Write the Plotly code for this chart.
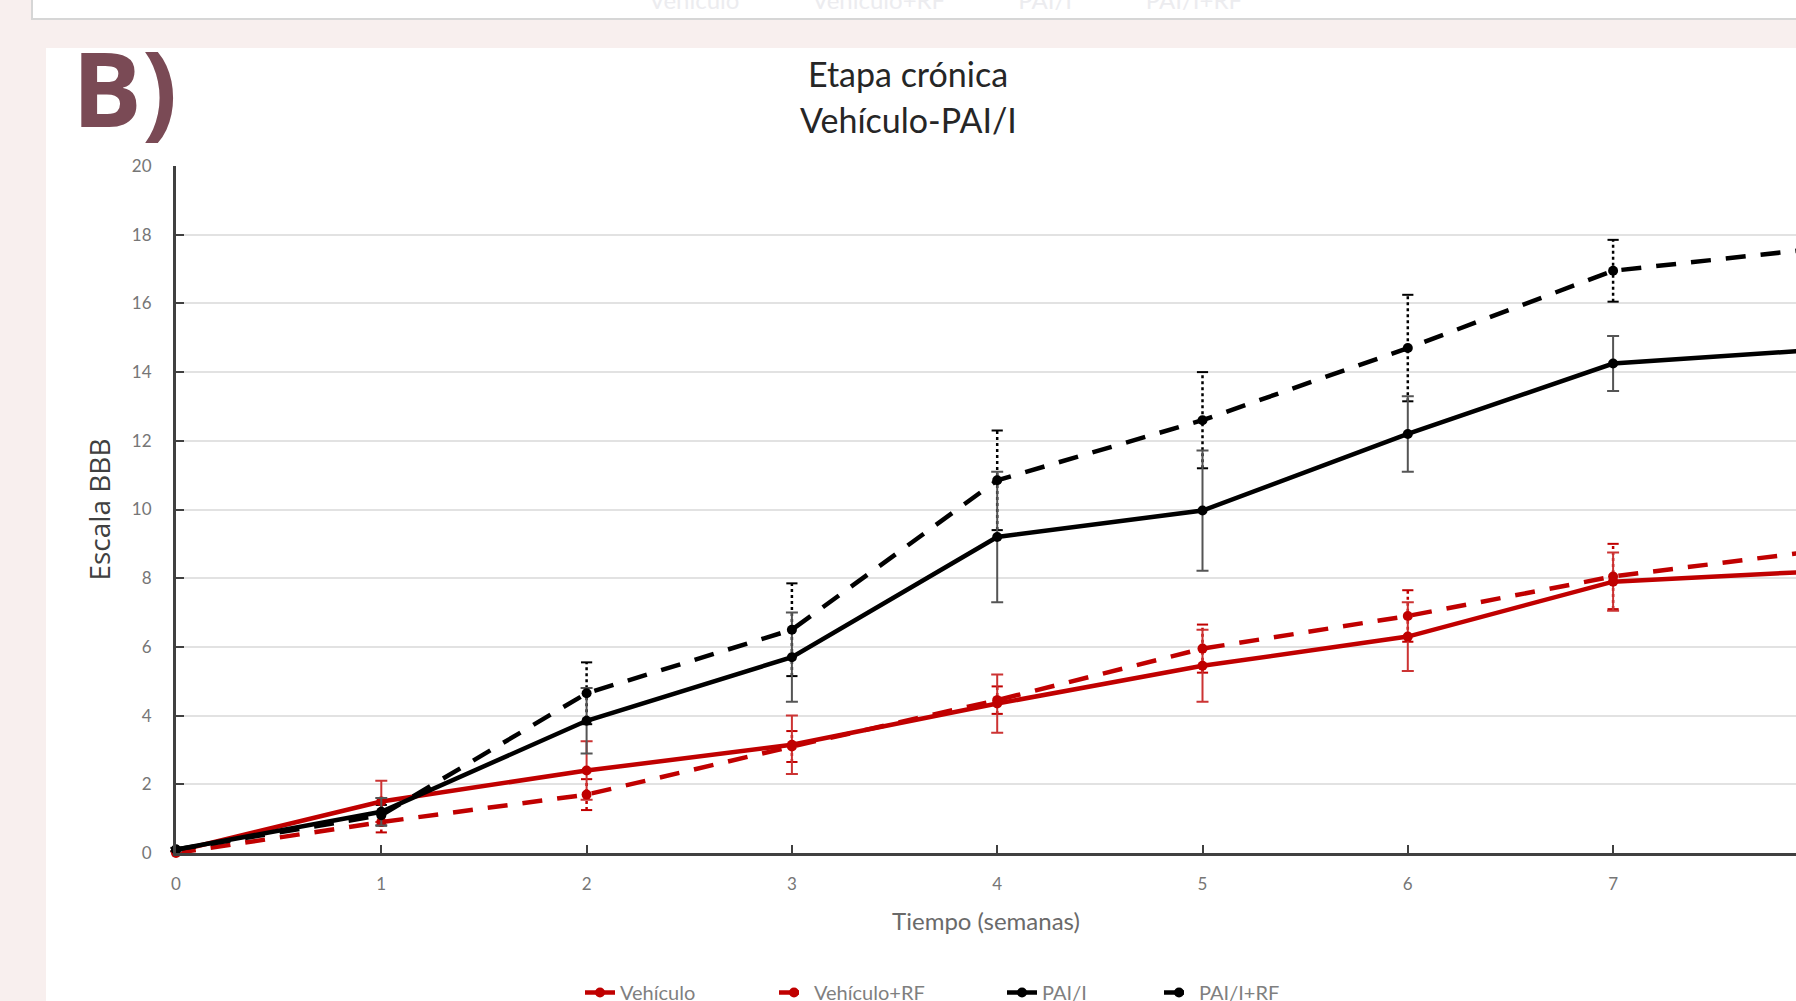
import plotly.graph_objects as go

# ---- data ----
weeks = [0, 1, 2, 3, 4, 5, 6, 7, 8]
vehiculo = [0.05, 1.5, 2.4, 3.15, 4.35, 5.45, 6.3, 7.9, 8.2]
vehiculo_err = [0.05, 0.6, 0.85, 0.85, 0.85, 1.05, 1.0, 0.85, 0.9]
vehiculo_rf = [0.0, 0.9, 1.7, 3.1, 4.45, 5.95, 6.9, 8.05, 8.8]
vehiculo_rf_err = [0.05, 0.3, 0.45, 0.45, 0.4, 0.7, 0.75, 0.95, 0.9]
pai = [0.1, 1.2, 3.85, 5.7, 9.2, 9.97, 12.2, 14.25, 14.65]
pai_err = [0.05, 0.4, 0.95, 1.3, 1.9, 1.75, 1.1, 0.8, 0.8]
pai_rf = [0.1, 1.1, 4.65, 6.5, 10.85, 12.6, 14.7, 16.95, 17.6]
pai_rf_err = [0.05, 0.3, 0.9, 1.35, 1.45, 1.4, 1.55, 0.9, 0.9]

series_names = ["Vehículo", "Vehículo+RF", "PAI/I", "PAI/I+RF"]
x_ticks = [0, 1, 2, 3, 4, 5, 6, 7, 8]
y_ticks = [0, 2, 4, 6, 8, 10, 12, 14, 16, 18, 20]

RED = "#c00000"
BLACK = "#000000"
PINK = "#f8efee"

W, H = 1796, 1001
L, R, T, B = 176, 0, 166, 148
pw, ph = W - L - R, H - T - B


def px_x(p):
    return (p - L) / pw


def px_y(p):
    return (H - B - p) / ph


fig = go.Figure()


def dotted_err(x, y, e, color, name):
    xs, ys = [], []
    for xi, yi, ei in zip(x, y, e):
        xs += [xi, xi, None]
        ys += [yi - ei, yi + ei, None]
    fig.add_trace(go.Scatter(
        x=xs, y=ys, mode="lines+markers", showlegend=False, hoverinfo="skip",
        line=dict(color=color, width=2.5, dash="3px,3px"),
        marker=dict(symbol="line-ew", size=8, line=dict(color=color, width=2)),
        cliponaxis=False, name=name + " err"))


dotted_err(weeks, vehiculo_rf, vehiculo_rf_err, RED, series_names[1])
dotted_err(weeks, pai_rf, pai_rf_err, BLACK, series_names[3])

fig.add_trace(go.Scatter(
    x=weeks, y=vehiculo, name=series_names[0], mode="lines+markers",
    line=dict(color=RED, width=4.5), marker=dict(size=10, color=RED),
    error_y=dict(type="data", array=vehiculo_err, color="#cc3333", thickness=2, width=6),
    cliponaxis=False, legendwidth=149))
fig.add_trace(go.Scatter(
    x=weeks, y=vehiculo_rf, name=series_names[1], mode="lines+markers",
    line=dict(color=RED, width=4.5, dash="20px,15px"), marker=dict(size=10, color=RED),
    cliponaxis=False, legendwidth=183))
fig.add_trace(go.Scatter(
    x=weeks, y=pai, name=series_names[2], mode="lines+markers",
    line=dict(color=BLACK, width=4.5), marker=dict(size=10, color=BLACK),
    error_y=dict(type="data", array=pai_err, color="#555555", thickness=2, width=6),
    cliponaxis=False, legendwidth=112))
fig.add_trace(go.Scatter(
    x=weeks, y=pai_rf, name=series_names[3], mode="lines+markers",
    line=dict(color=BLACK, width=4.5, dash="20px,15px"), marker=dict(size=10, color=BLACK),
    cliponaxis=False, legendwidth=120))

shapes = [
    # white panel holding the chart
    dict(type="rect", xref="paper", yref="paper", x0=px_x(46), x1=px_x(W + 5),
         y0=px_y(H + 5), y1=px_y(48), fillcolor="white", line=dict(width=0), layer="below"),
    # top white box (previous panel)
    dict(type="rect", xref="paper", yref="paper", x0=px_x(32), x1=px_x(W + 5),
         y0=px_y(19), y1=px_y(-5), fillcolor="white", line=dict(color="#d6d6d6", width=2),
         layer="below"),
]

annotations = [
    dict(text="<b>B)</b>", xref="paper", yref="paper", x=px_x(70), y=px_y(87),
         xanchor="left", yanchor="middle", showarrow=False,
         font=dict(family="Open Sans", size=104, color="#7a4a55")),
    dict(text="Etapa crónica", xref="paper", yref="paper",
         x=px_x(908), y=px_y(73), xanchor="center", yanchor="middle", showarrow=False,
         font=dict(family="Lato", size=34, color="#262626")),
    dict(text="Vehículo-PAI/I", xref="paper", yref="paper",
         x=px_x(908), y=px_y(119), xanchor="center", yanchor="middle", showarrow=False,
         font=dict(family="Lato", size=34, color="#262626")),
    dict(text="Vehículo            Vehículo+RF            PAI/I            PAI/I+RF",
         xref="paper", yref="paper",
         x=px_x(945), y=px_y(0), xanchor="center", yanchor="middle", showarrow=False,
         font=dict(family="Lato", size=24, color="#ececef")),
]

fig.update_layout(
    width=W, height=H,
    margin=dict(l=L, r=R, t=T, b=B, pad=0, autoexpand=False),
    paper_bgcolor=PINK, plot_bgcolor="white",
    shapes=shapes, annotations=annotations,
    showlegend=True,
    legend=dict(orientation="h", x=px_x(580), y=px_y(973), xanchor="left", yanchor="top",
                font=dict(family="Lato", size=20, color="#7f7f7f"),
                bgcolor="rgba(0,0,0,0)", traceorder="normal"),
    xaxis=dict(range=[0, pw / 205.3], tickvals=x_ticks, ticks="inside", ticklen=8,
               tickwidth=2, tickcolor="#404040", showline=True, linecolor="#404040",
               linewidth=3, showgrid=False, zeroline=False, ticklabelstandoff=14,
               tickfont=dict(family="Lato", size=17, color="#767676"),
               title=dict(text="Tiempo (semanas)", standoff=20,
                          font=dict(family="Lato", size=24, color="#6a6a6a"))),
    yaxis=dict(range=[0, 20], tickvals=y_ticks, ticks="inside", ticklen=8, tickwidth=2,
               tickcolor="#404040", showline=True, linecolor="#404040", linewidth=3,
               showgrid=True, gridcolor="#e2e2e2", gridwidth=2, zeroline=False,
               ticklabelstandoff=18,
               tickfont=dict(family="Lato", size=17, color="#767676"),
               title=dict(text="Escala BBB", standoff=14,
                          font=dict(family="Open Sans", size=28, color="#404040"))),
)

fig.write_html("out.html")
